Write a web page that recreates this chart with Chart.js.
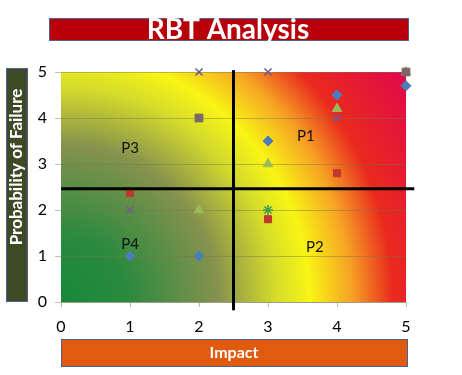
<!DOCTYPE html>
<html>
<head>
<meta charset="utf-8">
<script src="https://cdn.jsdelivr.net/npm/chart.js@4.4.1/dist/chart.umd.min.js"></script>
<style>
  html, body { margin: 0; padding: 0; background: #fff; }
  #wrap { width: 462px; height: 375px; }
</style>
</head>
<body>
<div id="wrap"><canvas id="myChart"></canvas></div>
<script>
const ctx = document.getElementById("myChart");

// points, one list per series
const blueDiamonds = [{ x: 1, y: 1 }, { x: 2, y: 1 }, { x: 3, y: 3.5 }, { x: 4, y: 4.5 }, { x: 5, y: 4.7 }];
const redSquares = [{ x: 1, y: 2.37 }, { x: 3, y: 1.8 }, { x: 4, y: 2.8 }];
const greySquares = [{ x: 2, y: 4 }, { x: 5, y: 5 }];
const greenTriangles = [{ x: 2, y: 2 }, { x: 3, y: 3 }, { x: 4, y: 4.2 }, { x: 5, y: 5 }];
const purpleCrosses = [{ x: 1, y: 2 }, { x: 2, y: 5 }, { x: 3, y: 5 }, { x: 4, y: 4 }, { x: 2, y: 4 }];
const greenStars = [{ x: 3, y: 2 }];

// quadrant dividers
const splitImpact = 2.5;
const splitProbability = 2.46;

const xTicks = [0, 1, 2, 3, 4, 5];
const yTicks = [0, 1, 2, 3, 4, 5];

const quadrantLabels = ["P1", "P2", "P3", "P4"];
const quadrantX = [3.55, 3.68, 1.0, 1.0];
const quadrantY = [3.6, 1.2, 3.35, 1.25];

const FONT = "Lato, 'Open Sans', sans-serif";

// heat map background + title boxes
const decor = {
  id: "decor",
  beforeDatasetsDraw(chart) {
    const c = chart.ctx;
    const a = chart.chartArea;
    const r = Math.hypot(a.right - a.left, a.bottom - a.top);
    const g = c.createRadialGradient(a.left, a.bottom, 0, a.left, a.bottom, r);
    g.addColorStop(0, "#17883a");
    g.addColorStop(0.16, "#2a8a3e");
    g.addColorStop(0.38, "#86924e");
    g.addColorStop(0.52, "#d6dc2a");
    g.addColorStop(0.6, "#f8f514");
    g.addColorStop(0.7, "#f6a424");
    g.addColorStop(0.8, "#e92a1e");
    g.addColorStop(1, "#e2074c");
    c.save();
    c.fillStyle = g;
    c.fillRect(a.left, a.top, a.right - a.left, a.bottom - a.top);
    // horizontal gridlines on top of the gradient
    const ys = chart.scales.y;
    c.strokeStyle = "rgba(120,120,70,0.45)";
    c.lineWidth = 1;
    yTicks.forEach(v => {
      const py = Math.round(ys.getPixelForValue(v)) + 0.5;
      c.beginPath();
      c.moveTo(a.left - 6, py);
      c.lineTo(a.right, py);
      c.stroke();
    });
    c.restore();
  },
  afterDraw(chart) {
    const c = chart.ctx;
    const xs = chart.scales.x, ys = chart.scales.y;
    c.save();
    // quadrant names
    c.fillStyle = "#111";
    c.font = "15px " + FONT;
    c.textAlign = "center";
    c.textBaseline = "middle";
    quadrantLabels.forEach((t, i) => {
      c.fillText(t, xs.getPixelForValue(quadrantX[i]), ys.getPixelForValue(quadrantY[i]));
    });
    // title bar
    c.fillStyle = "#b8000a";
    c.strokeStyle = "#4f6190";
    c.lineWidth = 1;
    c.fillRect(49.5, 18.5, 359, 22);
    c.strokeRect(49.5, 18.5, 359, 22);
    c.fillStyle = "#fff";
    c.font = "bold 28px " + FONT;
    c.textBaseline = "alphabetic";
    c.fillText("RBT Analysis", 228, 39);
    // x axis title
    c.fillStyle = "#e05a0f";
    c.fillRect(61.5, 339.5, 346, 27);
    c.strokeRect(61.5, 339.5, 346, 27);
    c.fillStyle = "#fff";
    c.font = "bold 16px " + FONT;
    c.textBaseline = "middle";
    c.fillText("Impact", 234, 353);
    // y axis title
    c.fillStyle = "#3e4a26";
    c.fillRect(6.5, 68.5, 21, 233);
    c.strokeRect(6.5, 68.5, 21, 233);
    c.translate(17, 167);
    c.rotate(-Math.PI / 2);
    c.fillStyle = "#fff";
    c.font = "bold 17px " + FONT;
    c.fillText("Probability of Failure", 0, 0);
    c.restore();
  }
};

const series = (label, data, style, color, size) => ({
  type: "scatter",
  label: label,
  data: data,
  pointStyle: style,
  pointRadius: size,
  pointHoverRadius: size,
  backgroundColor: color,
  borderColor: color,
  borderWidth: style === "crossRot" || style === "star" ? 1.5 : 1,
  clip: false,
});

new Chart(ctx, {
  type: "scatter",
  data: {
    datasets: [
      {
        type: "line",
        label: "impact split",
        data: [{ x: splitImpact, y: -0.18 }, { x: splitImpact, y: 5.04 }],
        borderColor: "#000",
        borderWidth: 3,
        pointRadius: 0,
        clip: false,
      },
      {
        type: "line",
        label: "probability split",
        data: [{ x: 0, y: splitProbability }, { x: 5.12, y: splitProbability }],
        borderColor: "#000",
        borderWidth: 3,
        pointRadius: 0,
        clip: false,
      },
      series("S1", blueDiamonds, "rectRot", "#4a7ebb", 5),
      series("S2", redSquares, "rect", "#c0392f", 5),
      series("S3", greySquares, "rect", "#7a6868", 5.5),
      series("S4", greenTriangles, "triangle", "#9bbb59", 5.5),
      series("S5", purpleCrosses, "crossRot", "#6f5a96", 5),
      series("S6", greenStars, "star", "#3f9a4a", 5),
    ],
  },
  plugins: [decor],
  options: {
    responsive: true,
    maintainAspectRatio: false,
    animation: false,
    layout: { padding: { top: 72, right: 56, left: 0, bottom: 0 } },
    plugins: {
      legend: { display: false },
      tooltip: { enabled: false },
    },
    scales: {
      x: {
        type: "linear",
        min: 0,
        max: 5,
        afterFit(s) { s.height = 73; },
        afterBuildTicks(s) { s.ticks = xTicks.map(v => ({ value: v })); },
        grid: { drawOnChartArea: false, tickLength: 5, color: "#bbb" },
        border: { color: "#bbb" },
        ticks: { padding: 10, color: "#000", font: { family: FONT, size: 16 } },
      },
      y: {
        type: "linear",
        min: 0,
        max: 5,
        afterFit(s) { s.width = 61; },
        afterBuildTicks(s) { s.ticks = yTicks.map(v => ({ value: v })); },
        grid: { drawOnChartArea: false, drawTicks: false },
        border: { display: false },
        ticks: { padding: 14, color: "#000", font: { family: FONT, size: 16 } },
      },
    },
  },
});
</script>
</body>
</html>
